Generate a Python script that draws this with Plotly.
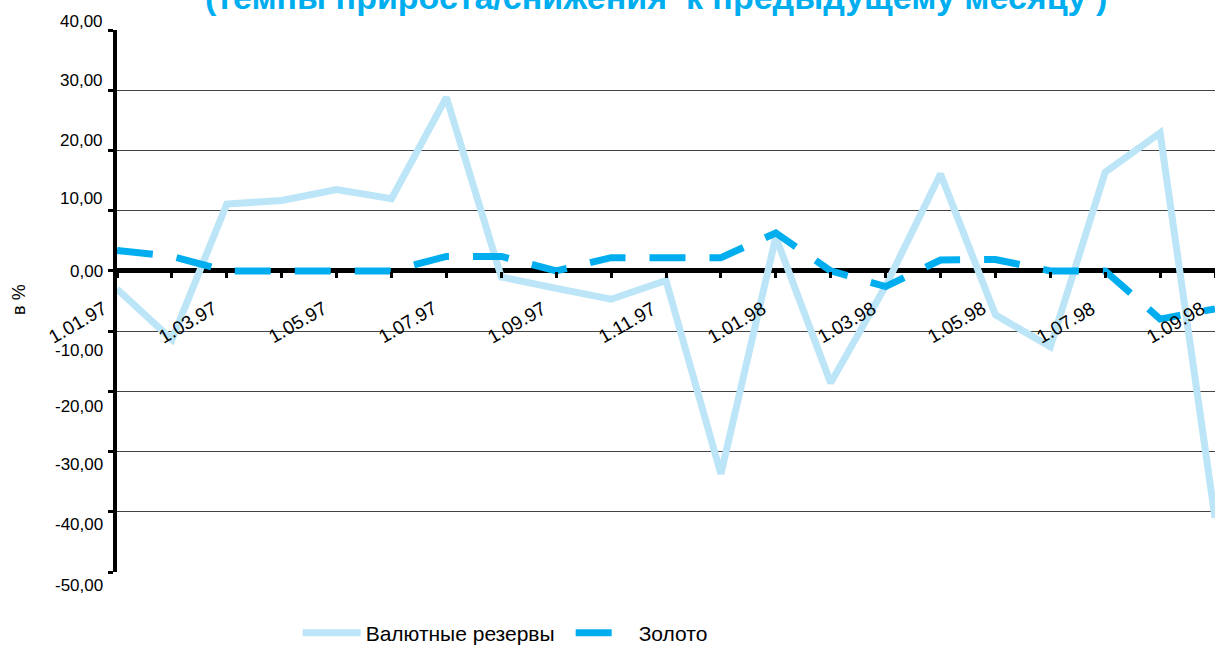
import plotly.graph_objects as go

months = ["1.01.97", "1.02.97", "1.03.97", "1.04.97", "1.05.97", "1.06.97", "1.07.97",
          "1.08.97", "1.09.97", "1.10.97", "1.11.97", "1.12.97", "1.01.98", "1.02.98",
          "1.03.98", "1.04.98", "1.05.98", "1.06.98", "1.07.98", "1.08.98", "1.09.98"]
reserves = [-3.0, -11.4, 11.1, 11.7, 13.5, 12.0, 28.8, -1.0, -2.9, -4.7, -1.6, -33.7,
            5.6, -18.6, -2.5, 16.1, -7.3, -12.6, 16.4, 22.9, -41.0]
gold = [3.4, 2.4, 0.0, 0.0, 0.0, 0.0, 2.4, 2.4, 0.0, 2.2, 2.2, 2.2, 6.3, 0.0,
        -2.6, 1.8, 1.9, 0.0, 0.0, -8.0, -6.3]
y_ticks = [40, 30, 20, 10, 0, -10, -20, -30, -40, -50]
y_labels = ["40,00", "30,00", "20,00", "10,00", "0,00", "-10,00", "-20,00", "-30,00", "-40,00", "-50,00"]
# excel put the labels a bit off the gridlines
y_label_shift = [9, 10, 10, 12, -1, -19, -15, -13, -13, -13]
x_labels = months[::2]

title = "(темпы прироста/снижения  к предыдущему месяцу )"

font = "Liberation Sans, Arial, sans-serif"

fig = go.Figure()
fig.add_trace(go.Scatter(x=months, y=reserves, mode="lines", name="Валютные резервы",
                         line=dict(color="#BDE5F8", width=7)))
fig.add_trace(go.Scatter(x=months, y=gold, mode="lines", name="Золото",
                         line=dict(color="#00AEEF", width=7, dash="36px,24px")))

for v, lab, sh in zip(y_ticks, y_labels, y_label_shift):
    fig.add_annotation(x=0, xref="paper", xanchor="right", xshift=-12,
                       y=v, yref="y", yanchor="middle", yshift=sh,
                       text=lab, showarrow=False, font=dict(size=17, color="black", family=font))

# rotated month labels hang from the zero line
for m in x_labels:
    fig.add_annotation(x=m, xref="x", y=0, yref="y", xanchor="right", yanchor="top",
                       xshift=-4, yshift=-24, text=m, textangle=-30, showarrow=False,
                       font=dict(size=19, color="black", family=font))

fig.add_annotation(x=0, xref="paper", xshift=-110, y=0.502, yref="paper", text="в %",
                   textangle=-90, showarrow=False, font=dict(size=18, color="black", family=font))

fig.add_annotation(x=0.491, xref="paper", y=1.06, yref="paper", yanchor="middle",
                   text="<b>" + title + "</b>", showarrow=False,
                   font=dict(size=34, color="#00AEEF", family=font))

fig.update_layout(
    width=1215, height=646,
    margin=dict(l=117, r=0, t=30, b=74),
    paper_bgcolor="white", plot_bgcolor="white",
    font=dict(family=font, size=17, color="black"),
    showlegend=True,
    legend=dict(orientation="h", xref="container", x=0.245, xanchor="left",
                yref="container", y=0.02, yanchor="middle",
                font=dict(size=21), itemwidth=58, entrywidth=200),
    xaxis=dict(type="category", range=[0, 20], tickmode="array", tickvals=months,
               showticklabels=False, ticks="outside", ticklen=6, tickwidth=3,
               tickcolor="black", showgrid=False, showline=False, zeroline=False,
               anchor="free", position=50 / 90, automargin=False),
    yaxis=dict(range=[-50, 40], dtick=10, showticklabels=False, ticks="outside",
               ticklen=5, tickwidth=3, tickcolor="black", showgrid=True,
               gridcolor="#444", gridwidth=1, showline=True, linecolor="black",
               linewidth=4, zeroline=True, zerolinecolor="black", zerolinewidth=5,
               automargin=False),
)

# page body has an 8px margin by default, drop it so the chart sits at 0,0
fig.write_html("out.html", config={"displayModeBar": False},
               post_script="document.body.style.margin='0';")
